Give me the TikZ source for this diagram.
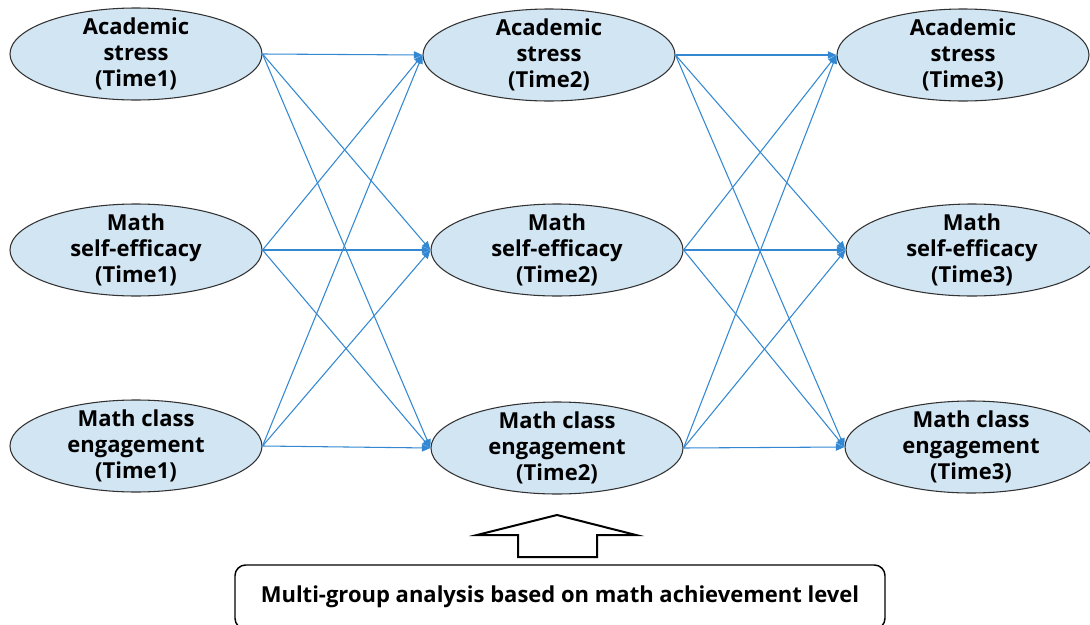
\documentclass[tikz,border=0pt]{standalone}
\usepackage{fontspec}
\setmainfont{Open Sans}
\usetikzlibrary{arrows.meta,shapes.geometric}
\definecolor{varfill}{RGB}{210,229,243}
\definecolor{varline}{RGB}{50,50,50}
\definecolor{pathblue}{RGB}{52,136,210}
\tikzset{
  var/.style={ellipse, draw=varline, line width=0.8pt, fill=varfill,
    minimum width=189pt, minimum height=69pt, inner sep=0pt},
  varlabel/.style={align=center, inner sep=0pt,
    font=\fontsize{16.5pt}{19.5pt}\selectfont\bfseries},
  path/.style={draw=pathblue, line width=0.8pt,
    -{Triangle[length=6.5pt,width=5.5pt]}},
  groupbox/.style={draw=black, line width=1.1pt, rounded corners=8pt,
    minimum width=487.5pt, minimum height=48pt, inner sep=0pt,
    font=\fontsize{16.5pt}{19pt}\selectfont\bfseries},
  blockarrow/.style={draw=black, line width=1.5pt, fill=white, line join=miter}
}
\begin{document}
\begin{tikzpicture}[x=0.75pt,y=-0.75pt]
\useasboundingbox (0,0) rectangle (1090,625);

% Time 1
\node[var] (s1) at (136,54) {};
\node[var] (e1) at (136,250) {};
\node[var] (c1) at (136,446) {};
% Time 2
\node[var] (s2) at (549,55) {};
\node[var] (e2) at (557,250) {};
\node[var] (c2) at (557,448) {};
% Time 3
\node[var] (s3) at (963,55) {};
\node[var] (e3) at (972,250) {};
\node[var] (c3) at (971,447) {};

% variable names
\node[varlabel] (ls1) at (s1) {Academic\\stress\\(Time1)};
\node[varlabel] (le1) at (e1) {Math\\self-efficacy\\(Time1)};
\node[varlabel] (lc1) at (c1) {Math class\\engagement\\(Time1)};
\node[varlabel] (ls2) at (s2) {Academic\\stress\\(Time2)};
\node[varlabel] (le2) at (e2) {Math\\self-efficacy\\(Time2)};
\node[varlabel] (lc2) at (c2) {Math class\\engagement\\(Time2)};
\node[varlabel] (ls3) at (s3) {Academic\\stress\\(Time3)};
\node[varlabel] (le3) at (e3) {Math\\self-efficacy\\(Time3)};
\node[varlabel] (lc3) at (c3) {Math class\\engagement\\(Time3)};

% cross-lagged paths
\foreach \a in {s1,e1,c1}
  \foreach \b in {s2,e2,c2}
    \draw[path] (\a.east) -- (\b.west);
\foreach \a in {s2,e2,c2}
  \foreach \b in {s3,e3,c3}
    \draw[path] (\a.east) -- (\b.west);

% grouping variable
\node[groupbox] (grp) at (560,597) {\raisebox{-4pt}{Multi-group analysis based on math achievement level}};
\draw[blockarrow] (557,515) -- (636,535) -- (597,535) -- (597,557)
  -- (518,557) -- (518,535) -- (477,535) -- cycle;
\end{tikzpicture}
\end{document}
